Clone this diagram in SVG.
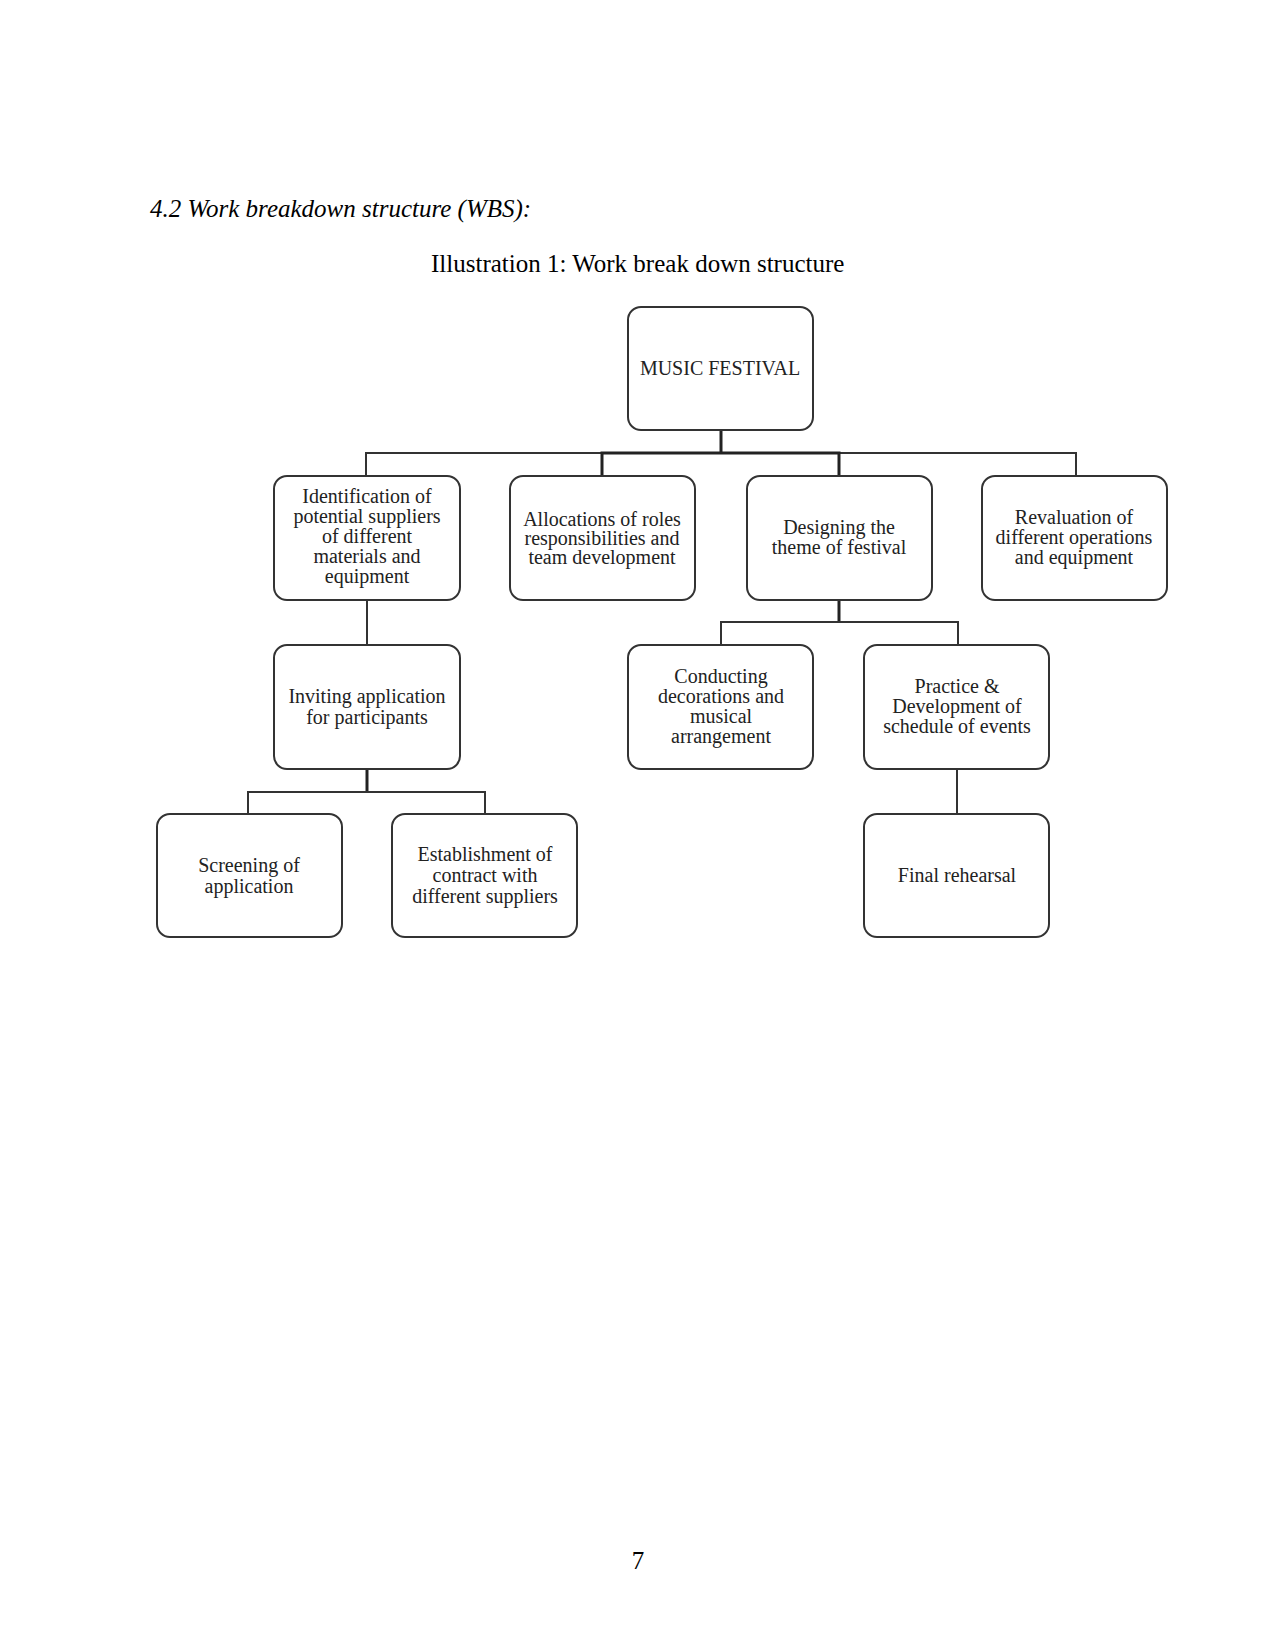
<svg xmlns="http://www.w3.org/2000/svg" width="1275" height="1651" viewBox="0 0 1275 1651">
<style>
.box{fill:#fff;stroke:#333;stroke-width:2}
.t{font-family:"Liberation Serif","Times New Roman",serif;font-size:20px;fill:#222;text-anchor:middle}
.c{fill:none;stroke:#333;stroke-width:2}
.ct{fill:none;stroke:#222;stroke-width:3}
.h{font-family:"Liberation Serif","Times New Roman",serif;font-size:25px;fill:#000}
</style>
<rect width="1275" height="1651" fill="#fff"/>
<text class="h" x="150" y="217" font-style="italic">4.2 Work breakdown structure (WBS):</text>
<text class="h" x="431" y="272">Illustration 1: Work break down structure</text>
<g id="connectors">
<path class="ct" d="M721,430 V453"/>
<path class="c" d="M366,476 V453 H1076 V476"/>
<path class="ct" d="M602,476 V453 H839 V476"/>
<path class="c" d="M367,600 V645"/>
<path class="ct" d="M839,600 V622"/>
<path class="c" d="M721,645 V622 H958 V645"/>
<path class="ct" d="M367,769 V792"/>
<path class="c" d="M248,814 V792 H485 V814"/>
<path class="c" d="M957,769 V814"/>
</g>
<g id="n-music">
<rect class="box" x="628" y="307" width="185" height="123" rx="13"/>
<text class="t" x="720" y="375">MUSIC FESTIVAL</text>
</g>
<g id="n-ident">
<rect class="box" x="274" y="476" width="186" height="124" rx="13"/>
<text class="t" x="367" y="503">Identification of</text>
<text class="t" x="367" y="523">potential suppliers</text>
<text class="t" x="367" y="543">of different</text>
<text class="t" x="367" y="563">materials and</text>
<text class="t" x="367" y="583">equipment</text>
</g>
<g id="n-alloc">
<rect class="box" x="510" y="476" width="185" height="124" rx="13"/>
<text class="t" x="602" y="526">Allocations of roles</text>
<text class="t" x="602" y="545">responsibilities and</text>
<text class="t" x="602" y="564">team development</text>
</g>
<g id="n-design">
<rect class="box" x="747" y="476" width="185" height="124" rx="13"/>
<text class="t" x="839" y="534">Designing the</text>
<text class="t" x="839" y="554">theme of festival</text>
</g>
<g id="n-reval">
<rect class="box" x="982" y="476" width="185" height="124" rx="13"/>
<text class="t" x="1074" y="524">Revaluation of</text>
<text class="t" x="1074" y="544">different operations</text>
<text class="t" x="1074" y="564">and equipment</text>
</g>
<g id="n-invite">
<rect class="box" x="274" y="645" width="186" height="124" rx="13"/>
<text class="t" x="367" y="703">Inviting application</text>
<text class="t" x="367" y="724">for participants</text>
</g>
<g id="n-conduct">
<rect class="box" x="628" y="645" width="185" height="124" rx="13"/>
<text class="t" x="721" y="683">Conducting</text>
<text class="t" x="721" y="703">decorations and</text>
<text class="t" x="721" y="723">musical</text>
<text class="t" x="721" y="743">arrangement</text>
</g>
<g id="n-practice">
<rect class="box" x="864" y="645" width="185" height="124" rx="13"/>
<text class="t" x="957" y="693">Practice &amp;</text>
<text class="t" x="957" y="713">Development of</text>
<text class="t" x="957" y="733">schedule of events</text>
</g>
<g id="n-screen">
<rect class="box" x="157" y="814" width="185" height="123" rx="13"/>
<text class="t" x="249" y="872">Screening of</text>
<text class="t" x="249" y="893">application</text>
</g>
<g id="n-establish">
<rect class="box" x="392" y="814" width="185" height="123" rx="13"/>
<text class="t" x="485" y="861">Establishment of</text>
<text class="t" x="485" y="882">contract with</text>
<text class="t" x="485" y="903">different suppliers</text>
</g>
<g id="n-final">
<rect class="box" x="864" y="814" width="185" height="123" rx="13"/>
<text class="t" x="957" y="882">Final rehearsal</text>
</g>
<text class="h" x="638" y="1569" text-anchor="middle">7</text>
</svg>
